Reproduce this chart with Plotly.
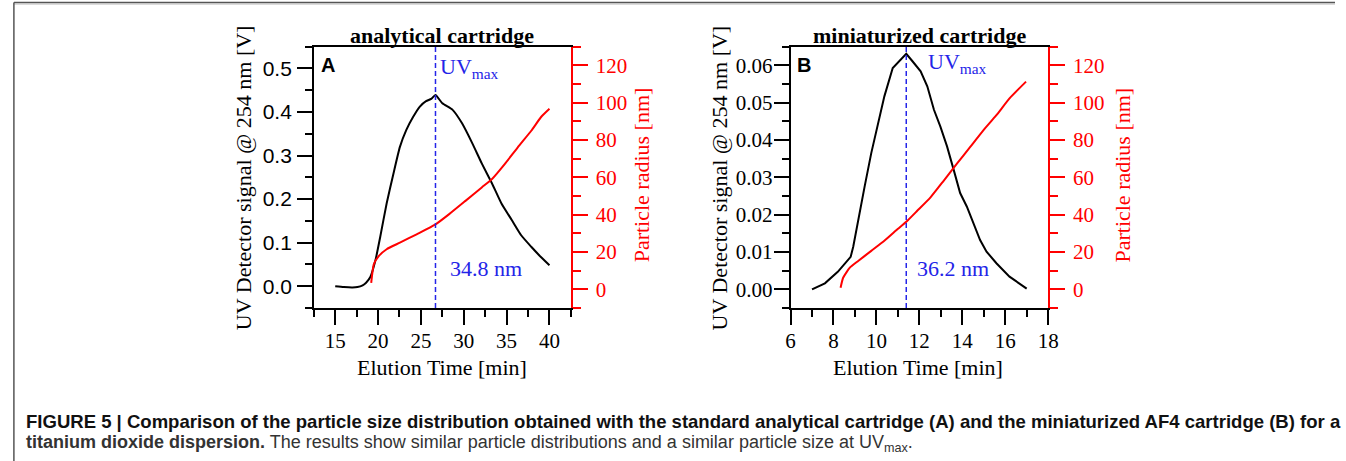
import plotly.graph_objects as go

W, H = 1346, 461

# ---------------- data ----------------
# Panel A: analytical cartridge
time_uv_a = [15.0, 16.0, 17.0, 17.6, 18.2, 18.6, 19.1, 19.7, 20.25, 21.0, 21.8, 22.55, 23.3, 24.1,
             24.85, 25.6, 26.2, 26.7, 27.5, 28.7, 29.8, 31.0, 32.1, 33.3, 34.4, 35.6, 36.7, 37.9,
             39.0, 40.0]
uv_a = [0.0, -0.002, -0.003, -0.002, 0.002, 0.008, 0.021, 0.06, 0.113, 0.19, 0.259, 0.32, 0.359,
        0.389, 0.412, 0.425, 0.430, 0.439, 0.42, 0.405, 0.374, 0.328, 0.282, 0.236, 0.19, 0.152,
        0.117, 0.09, 0.067, 0.048]
time_r_a = [19.2, 19.5, 20.1, 21.0, 22.55, 24.5, 26.7, 28.3, 30.2, 32.1, 33.3, 34.8, 36.3, 37.9,
            39.0, 40.0]
radius_a = [3.5, 13.4, 17.9, 21.5, 25.0, 29.5, 34.8, 40.3, 47.4, 54.6, 59.1, 67.2, 76.1, 85.1,
            92.2, 96.7]
uvmax_time_a = 26.7
uvmax_label_a = "34.8 nm"

# Panel B: miniaturized cartridge
time_uv_b = [7.0, 7.6, 8.2, 8.8, 8.92, 9.15, 9.45, 9.76, 10.07, 10.37, 10.76, 11.07, 11.39, 11.68,
             12.06, 12.37, 12.68, 12.98, 13.29, 13.6, 13.9, 14.21, 14.52, 14.83, 15.13, 15.59,
             16.2, 17.0]
uv_b = [0.0, 0.0016, 0.0047, 0.0087, 0.0114, 0.0186, 0.0275, 0.0365, 0.0445, 0.0517, 0.0593,
        0.0611, 0.0631, 0.0611, 0.0584, 0.0544, 0.0481, 0.0436, 0.0383, 0.032, 0.0258, 0.0222,
        0.0177, 0.0132, 0.0101, 0.007, 0.0034, 0.0002]
time_r_b = [8.33, 8.45, 8.76, 9.15, 9.76, 10.37, 10.99, 11.39, 11.91, 12.52, 13.14, 13.75, 14.37,
            14.98, 15.59, 16.2, 16.97]
radius_b = [0.9, 6.2, 11.6, 15.2, 20.6, 26.0, 32.3, 36.2, 42.2, 49.3, 58.3, 67.3, 76.3, 85.2,
            93.3, 102.3, 111.3]
uvmax_time_b = 11.39
uvmax_label_b = "36.2 nm"

panel_titles = ["analytical cartridge", "miniaturized cartridge"]
panel_letters = ["A", "B"]
caption_line1 = ("<b>FIGURE 5 | Comparison of the particle size distribution obtained with the "
                 "standard analytical cartridge (A) and the miniaturized AF4 cartridge (B) for a</b>")
caption_line2 = ("<b>titanium dioxide dispersion.</b> The results show similar particle "
                 "distributions and a similar particle size at UV<sub>max</sub>.")

# ---------------- styling ----------------
SERIF = "Liberation Serif, Times New Roman, serif"
SANS = "Liberation Sans, Arial, sans-serif"
RED = "#ff0000"
BLUE = "#2424e8"
BLACK = "#000000"


def px(x):
    return x / W


def py(y):
    return 1 - y / H


y_dom = [py(308.0), py(46.7)]
xa_dom = [px(312.5), px(572.7)]
xb_dom = [px(795.0), px(1055.7)]

fig = go.Figure()
fig.add_trace(go.Scatter(x=time_uv_a, y=uv_a, mode="lines",
                         line=dict(color=BLACK, width=2, shape="spline", smoothing=0.5),
                         xaxis="x", yaxis="y", showlegend=False))
fig.add_trace(go.Scatter(x=time_r_a, y=radius_a, mode="lines",
                         line=dict(color=RED, width=2, shape="spline", smoothing=0.5),
                         xaxis="x", yaxis="y2", showlegend=False))
fig.add_trace(go.Scatter(x=time_uv_b, y=uv_b, mode="lines", line=dict(color=BLACK, width=2),
                         xaxis="x2", yaxis="y3", showlegend=False))
fig.add_trace(go.Scatter(x=time_r_b, y=radius_b, mode="lines",
                         line=dict(color=RED, width=2, shape="spline", smoothing=0.5),
                         xaxis="x2", yaxis="y4", showlegend=False))

common_x = dict(showline=True, linecolor=BLACK, linewidth=1.5, mirror=True, ticks="outside",
                ticklen=15, tickwidth=1.5, tickcolor=BLACK, showgrid=False, zeroline=False,
                tickfont=dict(family=SERIF, size=21, color=BLACK), ticklabelstandoff=-2)
left_y = dict(showline=True, linecolor=BLACK, linewidth=1.5, ticks="outside", ticklen=15,
              tickwidth=1.5, tickcolor=BLACK, showgrid=False, zeroline=False)
right_y = dict(showline=True, linecolor=RED, linewidth=1.5, ticks="outside", ticklen=15,
               tickwidth=1.5, tickcolor=RED, showgrid=False, zeroline=False, side="right",
               range=[-10, 130], tick0=0, dtick=20,
               minor=dict(dtick=10, tick0=0, ticklen=8, tickcolor=RED, tickwidth=1.5, ticks="outside"),
               tickfont=dict(family=SERIF, size=21, color=RED), ticklabelstandoff=4)

fig.update_layout(
    width=W, height=H, margin=dict(l=0, r=0, t=0, b=0),
    paper_bgcolor="white", plot_bgcolor="white", showlegend=False,
    xaxis=dict(common_x, domain=xa_dom, anchor="y", range=[12.5, 42.5], tick0=15, dtick=5,
               minor=dict(dtick=2.5, tick0=12.5, ticklen=7, tickcolor=BLACK, tickwidth=1.5, ticks="outside")),
    yaxis=dict(left_y, domain=y_dom, anchor="x", range=[-0.05, 0.55], tick0=0, dtick=0.1,
               tickformat=".1f", tickfont=dict(family=SANS, size=21, color=BLACK), ticklabelstandoff=1,
               minor=dict(dtick=0.05, tick0=0, ticklen=7, tickcolor=BLACK, tickwidth=1.5, ticks="outside")),
    yaxis2=dict(right_y, overlaying="y", anchor="x"),
    xaxis2=dict(common_x, domain=xb_dom, anchor="y3", range=[6, 18], tick0=6, dtick=2,
                minor=dict(dtick=1, tick0=6, ticklen=7, tickcolor=BLACK, tickwidth=1.5, ticks="outside")),
    yaxis3=dict(left_y, domain=y_dom, anchor="x2", range=[-0.005, 0.065], tick0=0, dtick=0.01,
                tickformat=".2f", tickfont=dict(family=SERIF, size=21, color=BLACK), ticklabelstandoff=-3,
                minor=dict(dtick=0.005, tick0=0, ticklen=7, tickcolor=BLACK, tickwidth=1.5, ticks="outside")),
    yaxis4=dict(right_y, overlaying="y3", anchor="x2"),
)

# UV max dashed markers
for xr, t in (("x", uvmax_time_a), ("x2", uvmax_time_b)):
    fig.add_shape(type="line", xref=xr, yref=f"{'y' if xr == 'x' else 'y3'} domain",
                  x0=t, x1=t, y0=0, y1=1, line=dict(color=BLUE, width=1.5, dash="5px,3px"))

# figure border (top and left)
fig.add_shape(type="line", xref="paper", yref="paper", x0=px(9), x1=1, y0=py(2.5), y1=py(2.5),
              line=dict(color="#555555", width=1.5))
fig.add_shape(type="line", xref="paper", yref="paper", x0=px(9), x1=1, y0=py(4), y1=py(4),
              line=dict(color="#b8b8b8", width=1))
fig.add_shape(type="line", xref="paper", yref="paper", x0=px(9), x1=px(9), y0=py(2.5), y1=0,
              line=dict(color="#555555", width=1.5))

ann = []
# panel titles
for title, cx in zip(panel_titles, (442.6, 925.3)):
    ann.append(dict(text=f"<b>{title}</b>", x=px(cx), y=py(35.5), xanchor="center", yanchor="middle",
                    font=dict(family=SERIF, size=22, color=BLACK)))
# panel letters
for letter, lx in zip(panel_letters, (318, 800)):
    ann.append(dict(text=f"<b>{letter}</b>", x=px(lx), y=py(65), xanchor="left", yanchor="middle",
                    font=dict(family=SANS, size=20, color=BLACK)))
# axis titles
for cx in (442, 924.3):
    ann.append(dict(text="Elution Time [min]", x=px(cx), y=py(367.5), xanchor="center", yanchor="middle",
                    font=dict(family=SERIF, size=22, color=BLACK)))
for cx in (241.5, 723.5):
    ann.append(dict(text="UV Detector signal @ 254 nm [V]", x=px(cx), y=py(177.5), textangle=-90,
                    xanchor="center", yanchor="middle", font=dict(family=SERIF, size=22, color=BLACK)))
for cx in (645, 1131):
    ann.append(dict(text="Particle radius [nm]", x=px(cx), y=py(175), textangle=-90,
                    xanchor="center", yanchor="middle", font=dict(family=SERIF, size=22, color=RED)))
# UVmax labels
for ux, uy in ((438, 68), (932, 63)):
    ann.append(dict(text="UV<sub>max</sub>", x=px(ux), y=py(uy), xanchor="left", yanchor="middle",
                    font=dict(family=SERIF, size=22, color=BLUE)))
for lbl, lx, ly in ((uvmax_label_a, 448, 268.5), (uvmax_label_b, 921, 268)):
    ann.append(dict(text=lbl, x=px(lx), y=py(ly), xanchor="left", yanchor="middle",
                    font=dict(family=SERIF, size=22, color=BLUE)))
# caption
ann.append(dict(text=caption_line1, x=px(19), y=py(421), xanchor="left", yanchor="middle",
                font=dict(family=SANS, size=18.55, color="#111111")))
ann.append(dict(text=caption_line2, x=px(19), y=py(443), xanchor="left", yanchor="middle",
                font=dict(family=SANS, size=18, color="#333333")))

for a in ann:
    a.update(xref="paper", yref="paper", showarrow=False)
fig.update_layout(annotations=ann)

fig.write_html("out.html", config={"displayModeBar": False},
               post_script=("document.body.style.margin='0';"
                            "document.body.style.overflow='hidden';"
                            "document.documentElement.style.overflow='hidden';"))
